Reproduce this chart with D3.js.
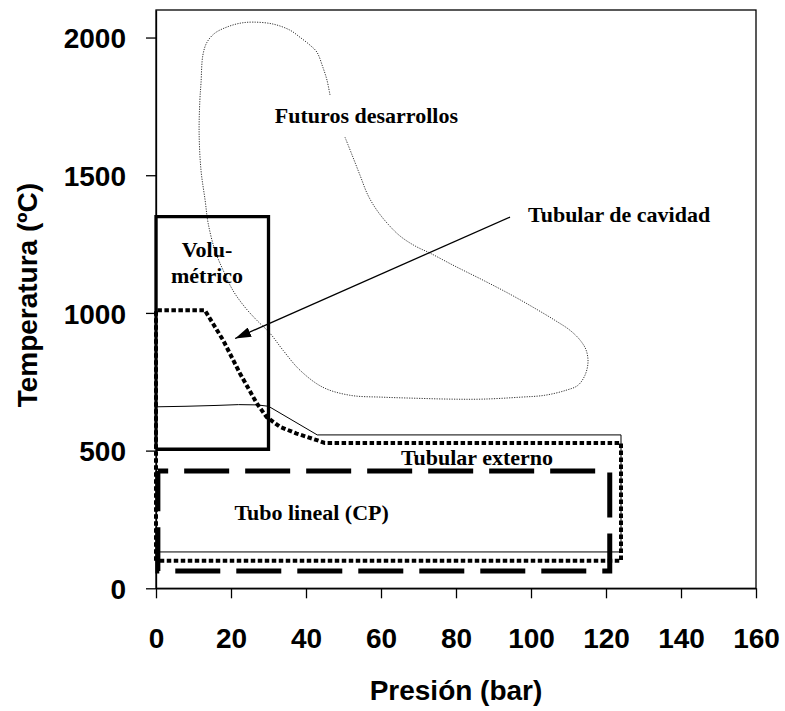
<!DOCTYPE html>
<html>
<head>
<meta charset="utf-8">
<script src="https://cdn.jsdelivr.net/npm/d3@7"></script>
<style>
  html, body { margin: 0; padding: 0; background: #fff; }
  svg { display: block; }
</style>
</head>
<body>
<script>
// Operating windows of solar receivers: pressure (bar) vs temperature (ºC)
const xTicks = [0, 20, 40, 60, 80, 100, 120, 140, 160];
const yTicks = [0, 500, 1000, 1500, 2000];

// Volumétrico: rectangle outline
const volumetrico = [[0, 505], [0, 1350], [30, 1350], [30, 505], [0, 505]];

// Tubular de cavidad (thick dotted outline)
const tubularCavidad = [
  [0, 100], [0, 1010], [13, 1010], [17.9, 901], [22.4, 780], [26.9, 671],
  [29.5, 622], [33.1, 586], [37.5, 562], [42.9, 538], [45, 528],
  [124, 528], [124, 100], [0, 100]
];

// Tubular externo (thin solid outline)
const tubularExterno = [
  [0, 659], [8, 661], [16, 664], [22, 667], [27, 666], [30, 661],
  [43, 557], [124, 557], [124, 132], [0, 132]
];

// Tubo lineal (CP) (thick dashed rectangle)
const tuboLineal = [[0.5, 426], [121, 426], [121, 63], [0.5, 63], [0.5, 426]];

// Futuros desarrollos (thin dotted contour, open where its label sits)
const futuros = [
  [50.4, 1638], [52.3, 1573], [54.4, 1500], [56.5, 1428], [58.9, 1373],
  [61.9, 1322], [65.1, 1279], [69.1, 1243], [73.1, 1217], [79.7, 1170],
  [87.2, 1119], [94.4, 1068], [100.5, 1021], [106.4, 973], [110.4, 937],
  [113.1, 901], [114.7, 865], [115.2, 821], [114.4, 774], [112.5, 737],
  [109.3, 719], [103.7, 701], [97.1, 694], [87.2, 687], [78.4, 687],
  [69.6, 690], [60.5, 694], [51.7, 701], [44.5, 730], [38.4, 792],
  [33.9, 864], [30.4, 926], [26.9, 973], [23.7, 1021], [20.5, 1082],
  [17.9, 1155], [15.7, 1228], [13.9, 1326], [13.1, 1409], [12.0, 1518],
  [11.5, 1653], [11.7, 1773], [12.0, 1834], [12.5, 1936], [13.6, 1983],
  [15.7, 2016], [18.9, 2038], [22.4, 2052], [25.9, 2056], [31.2, 2049],
  [35.7, 2027], [38.4, 2001], [41.1, 1972], [42.9, 1947], [44.5, 1892],
  [45.6, 1845], [46.4, 1791]
];

// Arrow pointing at the cavity receiver region
const arrowFrom = [94.4, 1348];
const arrowTo = [21.1, 907];

// Region labels [text, x, y, anchor]
const labels = [
  ["Futuros desarrollos", 56.1, 1688, "middle"],
  ["Tubular de cavidad", 99.2, 1329, "start"],
  ["Volu-", 13.6, 1202, "middle"],
  ["métrico", 13.6, 1108, "middle"],
  ["Tubular externo", 85.6, 447, "middle"],
  ["Tubo lineal (CP)", 20.9, 247, "start"]
];

const W = 785, H = 711;
const plotL = 156, plotR = 756, plotT = 10, plotB = 588.3;

const x = d3.scaleLinear().domain([0, 160]).range([plotL, plotR]);
const y = d3.scaleLinear().domain([0, 2100]).range([plotB, plotT]);

const svg = d3.select("body").append("svg")
  .attr("width", W).attr("height", H);

const line = d3.line().x(d => x(d[0])).y(d => y(d[1]));

// Plot frame
svg.append("rect")
  .attr("x", plotL).attr("y", plotT)
  .attr("width", plotR - plotL).attr("height", plotB - plotT)
  .attr("fill", "none").attr("stroke", "#000").attr("stroke-width", 1.3);

// Axes
const axisFont = "'Liberation Sans', Arial, sans-serif";
const xAxis = svg.append("g")
  .attr("transform", `translate(0,${plotB})`)
  .call(d3.axisBottom(x).tickValues(xTicks).tickFormat(d3.format("d"))
    .tickSize(10).tickSizeOuter(0));
const yAxis = svg.append("g")
  .attr("transform", `translate(${plotL},0)`)
  .call(d3.axisLeft(y).tickValues(yTicks).tickFormat(d3.format("d"))
    .tickSize(10).tickPadding(20).tickSizeOuter(0));

[xAxis, yAxis].forEach(g => {
  g.select(".domain").attr("stroke", "#000").attr("stroke-width", 1.3);
  g.selectAll(".tick line").attr("stroke", "#000").attr("stroke-width", 1.3);
  g.selectAll(".tick text")
    .attr("fill", "#000")
    .style("font-family", axisFont)
    .style("font-weight", "bold")
    .style("font-size", "28px");
});
xAxis.selectAll(".tick text").attr("dy", null).attr("y", 60);
yAxis.selectAll(".tick text").attr("dy", "0.36em");

// Axis titles
svg.append("text")
  .attr("x", (plotL + plotR) / 2).attr("y", 700)
  .attr("text-anchor", "middle")
  .style("font-family", axisFont).style("font-weight", "bold").style("font-size", "28px")
  .text("Presión (bar)");
svg.append("text")
  .attr("transform", `translate(37,${(plotT + plotB) / 2 - 4}) rotate(-90)`)
  .attr("text-anchor", "middle")
  .style("font-family", axisFont).style("font-weight", "bold").style("font-size", "28px")
  .text("Temperatura (ºC)");

// Futuros desarrollos contour
svg.append("path")
  .attr("d", d3.line().x(d => x(d[0])).y(d => y(d[1])).curve(d3.curveCatmullRom)(futuros))
  .attr("fill", "none").attr("stroke", "#333").attr("stroke-width", 1)
  .attr("stroke-dasharray", "1.2 1.3");

// Tubular externo
svg.append("path")
  .attr("d", line(tubularExterno))
  .attr("fill", "none").attr("stroke", "#000").attr("stroke-width", 1);

// Volumétrico
svg.append("path")
  .attr("d", line(volumetrico))
  .attr("fill", "none").attr("stroke", "#000").attr("stroke-width", 3.3)
  .attr("stroke-linejoin", "miter");

// Tubo lineal (CP)
svg.append("path")
  .attr("d", line(tuboLineal))
  .attr("fill", "none").attr("stroke", "#000").attr("stroke-width", 5)
  .attr("stroke-dasharray", "45 16").attr("stroke-dashoffset", 34.7);

// Tubular de cavidad
svg.append("path")
  .attr("d", line(tubularCavidad))
  .attr("fill", "none").attr("stroke", "#000").attr("stroke-width", 4)
  .attr("stroke-dasharray", "4.5 2.5");

// Arrow
svg.append("defs").append("marker")
  .attr("id", "head").attr("viewBox", "0 0 16 10")
  .attr("refX", 16).attr("refY", 5)
  .attr("markerWidth", 16).attr("markerHeight", 10)
  .attr("markerUnits", "userSpaceOnUse")
  .attr("orient", "auto")
  .append("path").attr("d", "M0,0 L16,5 L0,10 Z").attr("fill", "#000");
svg.append("line")
  .attr("x1", x(arrowFrom[0])).attr("y1", y(arrowFrom[1]))
  .attr("x2", x(arrowTo[0])).attr("y2", y(arrowTo[1]))
  .attr("stroke", "#000").attr("stroke-width", 1.3)
  .attr("marker-end", "url(#head)");

// Region labels
svg.append("g").selectAll("text").data(labels).join("text")
  .attr("x", d => x(d[1])).attr("y", d => y(d[2]))
  .attr("text-anchor", d => d[3])
  .style("font-family", "'Liberation Serif', 'Times New Roman', serif")
  .style("font-weight", "bold").style("font-size", "22px")
  .text(d => d[0]);
</script>
</body>
</html>
